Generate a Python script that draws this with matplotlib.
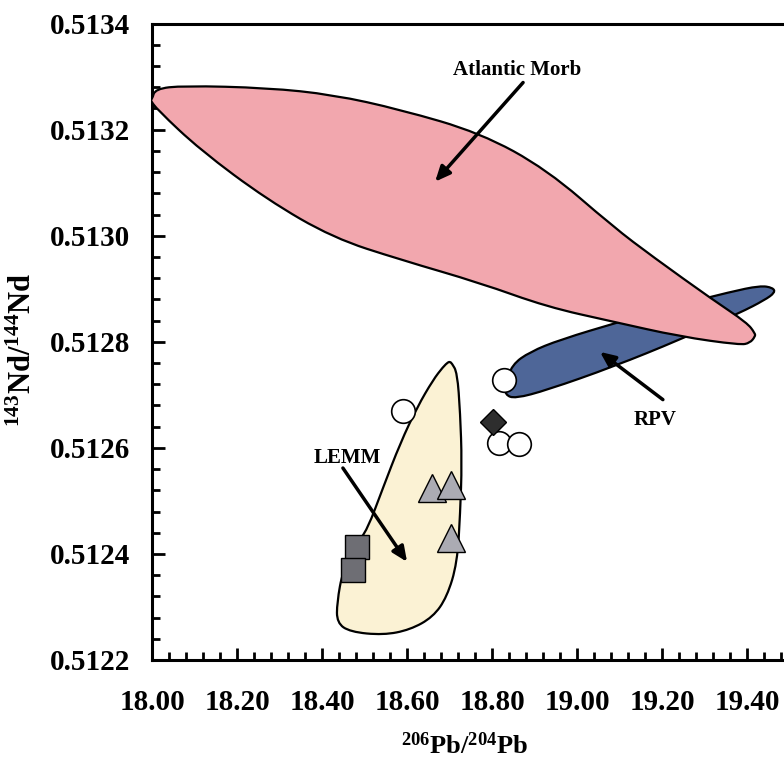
import numpy as np
import matplotlib
matplotlib.use("Agg")
import matplotlib.pyplot as plt
from matplotlib.patches import PathPatch
from matplotlib.path import Path
from matplotlib.ticker import MultipleLocator, FormatStrFormatter

plt.rcParams["font.family"] = ["Liberation Serif", "DejaVu Serif"]
plt.rcParams["font.weight"] = "bold"
plt.rcParams["mathtext.fontset"] = "custom"
plt.rcParams["mathtext.rm"] = "Liberation Serif:bold"
plt.rcParams["mathtext.it"] = "Liberation Serif:bold"
plt.rcParams["mathtext.bf"] = "Liberation Serif:bold"

# field outlines (206Pb/204Pb, 143Nd/144Nd)
morb_x = [18.000, 18.007, 18.073, 18.271, 18.426, 18.584, 18.772, 18.929,
          19.085, 19.179, 19.320, 19.400, 19.419, 19.419, 19.407, 19.384, 19.242,
          19.085, 18.929, 18.772, 18.584, 18.426, 18.271, 18.113, 18.012, 17.995]
morb_y = [0.513257, 0.513277, 0.513283, 0.513279, 0.513266, 0.513238,
          0.513194, 0.513125, 0.513017, 0.512960, 0.512879, 0.512836,
          0.512816, 0.512810, 0.512798, 0.512794, 0.512810, 0.512838, 0.512866,
          0.512911, 0.512955, 0.512996, 0.513068, 0.513162, 0.513238, 0.513257]

rpv_x = [18.831, 18.847, 18.889, 18.960, 19.101, 19.242, 19.360, 19.431,
         19.461, 19.466, 19.442, 19.384, 19.242, 19.085, 18.929, 18.854, 18.831]
rpv_y = [0.512719, 0.512757, 0.512781, 0.512804, 0.512838, 0.512870,
         0.512894, 0.512906, 0.512902, 0.512893, 0.512879, 0.512855,
         0.512804, 0.512753, 0.512709, 0.512693, 0.512700]

lemm_x = [18.701, 18.705, 18.718, 18.725, 18.729, 18.725, 18.718, 18.694, 18.661,
          18.607, 18.544, 18.466, 18.435, 18.435, 18.449, 18.482, 18.506,
          18.544, 18.584, 18.624, 18.661, 18.685, 18.697]
lemm_y = [0.512762, 0.512760, 0.512742, 0.512666, 0.512572, 0.512477, 0.512383,
          0.512319, 0.512281, 0.512257, 0.512247, 0.512253, 0.512270,
          0.512308, 0.512370, 0.512421, 0.512445, 0.512526, 0.512609,
          0.512677, 0.512728, 0.512753, 0.512762]

# samples
circle_x = [18.591, 18.828, 18.816, 18.864]
circle_y = [0.51267, 0.512728, 0.512609, 0.512608]
diamond_x = [18.802]
diamond_y = [0.512649]
triangle_x = [18.659, 18.704, 18.704]
triangle_y = [0.512525, 0.51253, 0.51243]
square_x = [18.482, 18.473]
square_y = [0.512413, 0.51237]


def smooth_outline(xs, ys):
    # closed quadratic-bezier outline using the points as control points
    p = np.column_stack([xs, ys])
    n = len(p)
    mid = (p + np.roll(p, -1, axis=0)) / 2
    verts = [mid[-1]]
    codes = [Path.MOVETO]
    for i in range(n):
        verts += [p[i], mid[i]]
        codes += [Path.CURVE3, Path.CURVE3]
    verts.append(mid[-1])
    codes.append(Path.CLOSEPOLY)
    return Path(verts, codes)


fig = plt.figure(figsize=(7.84, 7.63), dpi=100)
ax = fig.add_axes([0.194, 0.135, 0.806, 0.834])

ax.add_patch(PathPatch(smooth_outline(rpv_x, rpv_y), facecolor="#4E6698",
                       edgecolor="black", lw=1.6, zorder=2))
ax.add_patch(PathPatch(smooth_outline(morb_x, morb_y), facecolor="#F2A7AE",
                       edgecolor="black", lw=1.6, zorder=3))
ax.add_patch(PathPatch(smooth_outline(lemm_x, lemm_y), facecolor="#FBF2D4",
                       edgecolor="black", lw=1.6, zorder=2))

ax.plot(circle_x, circle_y, "o", ms=17, mfc="white", mec="black", mew=1.2, zorder=4)
ax.plot(diamond_x, diamond_y, "D", ms=13, mfc="#2E2E2E", mec="black", mew=1, zorder=4)
ax.plot(triangle_x, triangle_y, "^", ms=20, mfc="#ABABB3", mec="black", mew=1, zorder=4)
ax.plot(square_x, square_y, "s", ms=17, mfc="#6E6E74", mec="black", mew=1, zorder=4)

arrow = dict(arrowstyle="-|>,head_length=0.9,head_width=0.4", color="black", lw=2.5,
             shrinkA=0, shrinkB=0)
ax.annotate("", xy=(18.666, 0.513102), xytext=(18.873, 0.513289), arrowprops=arrow, zorder=5)
ax.annotate("", xy=(19.054, 0.512781), xytext=(19.202, 0.512691), arrowprops=arrow, zorder=5)
ax.annotate("", xy=(18.600, 0.512385), xytext=(18.449, 0.512562), arrowprops=arrow, zorder=5)

ax.text(18.86, 0.513312, "Atlantic Morb", fontsize=15, fontweight="bold",
        ha="center", va="center", zorder=6)
ax.text(19.184, 0.512653, "RPV", fontsize=15, fontweight="bold",
        ha="center", va="center", zorder=6)
ax.text(18.459, 0.512581, "LEMM", fontsize=15, fontweight="bold",
        ha="center", va="center", zorder=6)

ax.set_xlim(18.0, 19.487)
ax.set_ylim(0.5122, 0.5134)

ax.xaxis.set_major_locator(MultipleLocator(0.2))
ax.xaxis.set_minor_locator(MultipleLocator(0.04))
ax.yaxis.set_major_locator(MultipleLocator(0.0002))
ax.yaxis.set_minor_locator(MultipleLocator(0.00004))
ax.xaxis.set_major_formatter(FormatStrFormatter("%.2f"))
ax.yaxis.set_major_formatter(FormatStrFormatter("%.4f"))

ax.tick_params(which="both", direction="in", width=2, top=False, right=False)
ax.tick_params(which="major", length=9, labelsize=21)
ax.tick_params(which="minor", length=6)
ax.tick_params(axis="x", which="major", pad=21)
ax.tick_params(axis="y", which="major", pad=16)
for lab in ax.get_xticklabels() + ax.get_yticklabels():
    lab.set_fontweight("bold")

ax.spines["right"].set_visible(False)
for s in ["left", "bottom", "top"]:
    ax.spines[s].set_linewidth(2.2)

ax.set_xlabel(r"$^{206}$Pb/$^{204}$Pb", fontsize=19, fontweight="bold",
              ha="center", va="center")
ax.set_ylabel(r"$^{143}$Nd/$^{144}$Nd", fontsize=22, fontweight="bold",
              ha="center", va="center")
ax.xaxis.set_label_coords(0.495, -0.134)
ax.yaxis.set_label_coords(-0.204, 0.487)

fig.savefig("out.png", dpi=100)
